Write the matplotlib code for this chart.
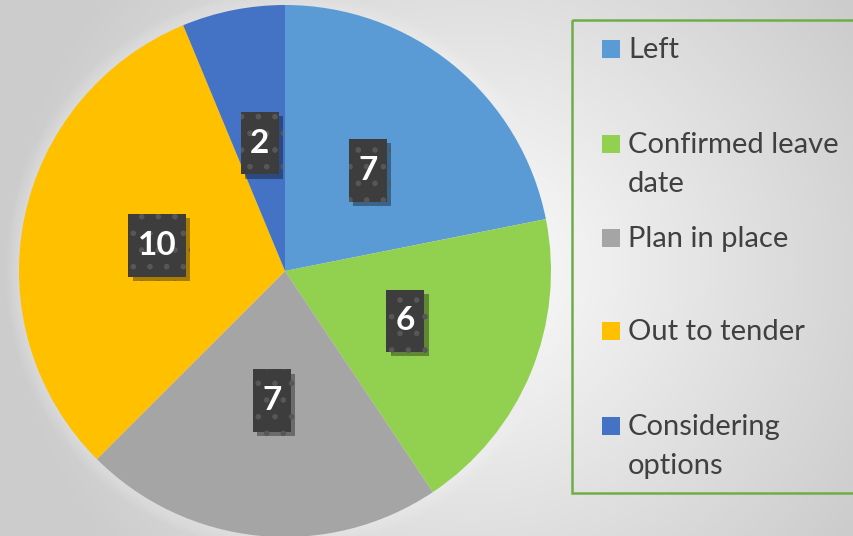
import numpy as np
import matplotlib
matplotlib.use("Agg")
import matplotlib.pyplot as plt
from matplotlib.patches import Rectangle
import matplotlib.patheffects as pe

categories = ["Left", "Confirmed leave\ndate", "Plan in place", "Out to tender", "Considering\noptions"]
values = [7, 6, 7, 10, 2]
colors = ["#5B9BD5", "#92D050", "#A5A5A5", "#FFC000", "#4472C4"]

plt.rcParams["font.family"] = ["Lato", "DejaVu Sans"]
plt.rcParams["hatch.linewidth"] = 1.6

fig = plt.figure(figsize=(8.54, 5.36), dpi=100)

# radial gradient background
bg = fig.add_axes([0, 0, 1, 1], zorder=0)
yy, xx = np.mgrid[0:536, 0:854]
d = np.sqrt(((xx - 470) / 420.0) ** 2 + ((yy - 268) / 400.0) ** 2)
shade = np.clip(0.99 - 0.17 * d, 0.80, 1.0)
bg.imshow(np.dstack([shade] * 3), extent=[0, 1, 0, 1], aspect="auto")
bg.set_axis_off()

# pie
ax = fig.add_axes([19 / 854, -1 / 536, 532 / 854, 532 / 536], zorder=1)
wedges, _ = ax.pie(values, colors=colors, startangle=90, counterclock=False,
                   radius=1.0, wedgeprops=dict(linewidth=0))
ax.set_xlim(-1, 1)
ax.set_ylim(-1, 1)
ax.set_aspect("equal")
ax.set_axis_off()

# soft halo around pie
for k in range(6):
    ax.add_patch(plt.Circle((0, 0), 1.0 + 0.01 * k, color="white", alpha=0.05, lw=0,
                            zorder=0, clip_on=False))

total = sum(values)
ang = 90.0
for v in values:
    mid = np.deg2rad(ang - v / total * 180.0)
    ang -= v / total * 360.0
    x, y = 0.49 * np.cos(mid), 0.49 * np.sin(mid)
    t = ax.text(x, y, str(v), ha="center", va="center", fontsize=24, fontweight="bold",
                color="white", zorder=5,
                bbox=dict(boxstyle="square,pad=0.28", fc="#3d3d3d", ec="#575757",
                          lw=0, hatch="."))
    bp = t.get_bbox_patch()
    bp.set_mutation_aspect(1.8)
    bp.set_path_effects([
        pe.SimplePatchShadow(offset=(3, -3), shadow_rgbFace="black", alpha=0.35),
        pe.Normal()])

# legend box
leg = fig.add_axes([0, 0, 1, 1], zorder=2)
leg.set_xlim(0, 854)
leg.set_ylim(536, 0)
leg.set_axis_off()
leg.patch.set_alpha(0)
leg.add_patch(Rectangle((572, 20), 300, 473, fill=False, ec="#70AD47", lw=1.8))
rows = [49, 144, 238, 331, 426]
for lab, c, ry in zip(categories, colors, rows):
    leg.add_patch(Rectangle((602, ry - 9), 18, 18, fc=c, ec="none"))
    leg.text(628, ry - 12, lab, ha="left", va="top", fontsize=21, color="#404040",
             linespacing=1.6)

fig.savefig("out.png", dpi=100)
